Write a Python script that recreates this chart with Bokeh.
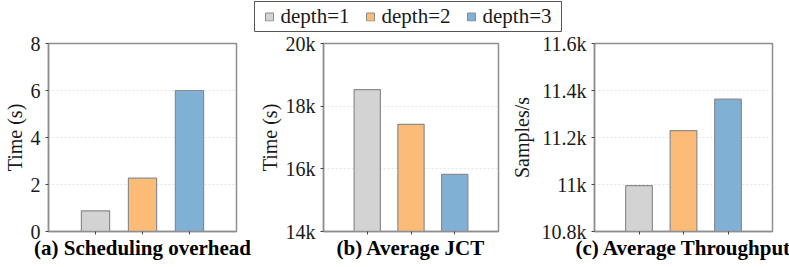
from bokeh.plotting import figure
from bokeh.layouts import column, row
from bokeh.models import FixedTicker, Range1d, Legend, LegendItem, ColumnDataSource
from bokeh.embed import file_html
from bokeh.resources import INLINE

# ---- data ----
series = ["depth=1", "depth=2", "depth=3"]
colors = ["#d3d3d3", "#fdbb78", "#80b0d4"]
sched_overhead = [0.88, 2.27, 6.0]          # seconds
avg_jct = [18530, 17420, 15820]             # seconds
avg_throughput = [10995, 11229, 11363]      # samples/s

titles = ["(a) Scheduling overhead", "(b) Average JCT", "(c) Average Throughput"]
ylabels = ["Time (s)", "Time (s)", "Samples/s"]
yticks_a = [0, 2, 4, 6, 8]
ytick_labels_a = ["0", "2", "4", "6", "8"]
yticks_b = [14000, 16000, 18000, 20000]
ytick_labels_b = ["14k", "16k", "18k", "20k"]
yticks_c = [10800, 11000, 11200, 11400, 11600]
ytick_labels_c = ["10.8k", "11k", "11.2k", "11.4k", "11.6k"]

FONT = "'Liberation Serif'"
FS = "20px"
EDGE = "#8c8c8c"
FRAME = "#8f8f8f"


def panel(vals, title, ylabel, ticks, labels, width, bl, br, lstand):
    p = figure(width=width, height=230, output_backend="svg", toolbar_location=None,
               x_range=Range1d(0, 4), y_range=Range1d(ticks[0], ticks[-1]),
               min_border_left=bl, min_border_right=br, min_border_top=11,
               min_border_bottom=10)
    src = ColumnDataSource(dict(x=[1, 2, 3], top=vals, color=colors))
    p.vbar(x="x", top="top", bottom=ticks[0], width=0.6, fill_color="color",
           line_color=EDGE, line_width=1.2, source=src)
    p.outline_line_color = FRAME
    p.outline_line_width = 1.5
    p.xgrid.visible = False
    p.ygrid.grid_line_color = "#dddddd"
    p.ygrid.grid_line_dash = "2 2"
    p.ygrid.grid_line_width = 0.8
    p.yaxis.ticker = FixedTicker(ticks=ticks)
    p.yaxis.major_label_overrides = {t: l for t, l in zip(ticks, labels)}
    p.xaxis.ticker = FixedTicker(ticks=[1, 2, 3])
    p.xaxis.major_label_overrides = {1: "", 2: "", 3: ""}
    p.xaxis.major_label_text_font_size = "1px"
    p.xaxis.major_label_standoff = 0
    for ax in (p.xaxis, p.yaxis):
        ax.axis_line_color = FRAME
        ax.axis_line_width = 1.5
        ax.major_tick_line_color = "#444444"
        ax.major_tick_in = 0
        ax.major_tick_out = 3
        ax.minor_tick_line_color = None
        ax.major_label_text_font = FONT
        ax.major_label_text_color = "#1a1a1a"
        ax.axis_label_text_font = FONT
        ax.axis_label_text_color = "#1a1a1a"
    p.yaxis.major_label_text_font_size = FS
    p.yaxis.major_label_standoff = 5
    p.yaxis.axis_label = ylabel
    p.yaxis.axis_label_text_font_size = FS
    p.yaxis.axis_label_text_font_style = "normal"
    p.yaxis.axis_label_standoff = lstand
    p.xaxis.axis_label = title
    p.xaxis.axis_label_text_font_size = "21px"
    p.xaxis.axis_label_text_font_style = "bold"
    p.xaxis.axis_label_text_color = "#000000"
    p.xaxis.axis_label_standoff = 1
    return p


pa = panel(sched_overhead, titles[0], ylabels[0], yticks_a, ytick_labels_a, 255, 48, 19, 2)
pb = panel(avg_jct, titles[1], ylabels[1], yticks_b, ytick_labels_b, 252, 56, 9, 2)
pc = panel(avg_throughput, titles[2], ylabels[2], yticks_c, ytick_labels_c, 282, 79, 17, 6)

# legend figure: its frame outline is the legend box
lf = figure(width=562, height=32, output_backend="svg", toolbar_location=None,
            x_range=Range1d(0, 1), y_range=Range1d(0, 1),
            min_border_left=254, min_border_right=1, min_border_top=1,
            min_border_bottom=1)
lf.axis.visible = False
lf.grid.visible = False
lf.outline_line_color = "#555555"
lf.outline_line_width = 1
items = []
for name, c in zip(series, colors):
    r = lf.vbar(x=[-5], top=[-5], bottom=[-6], width=0.5, fill_color=c,
                line_color=EDGE, line_width=1)
    items.append(LegendItem(label=name, renderers=[r]))
leg = Legend(items=items, orientation="horizontal", location="center")
leg.label_text_font = FONT
leg.label_text_font_size = "21px"
leg.label_text_color = "#1a1a1a"
leg.glyph_width = 10
leg.glyph_height = 10
leg.label_standoff = 7
leg.spacing = 15
leg.padding = 0
leg.margin = 0
leg.label_height = 20
leg.border_line_color = None
leg.background_fill_alpha = 0
lf.add_layout(leg, "center")

layout = column(lf, row(pa, pb, pc))

open("out.html", "w").write(file_html(layout, INLINE))
